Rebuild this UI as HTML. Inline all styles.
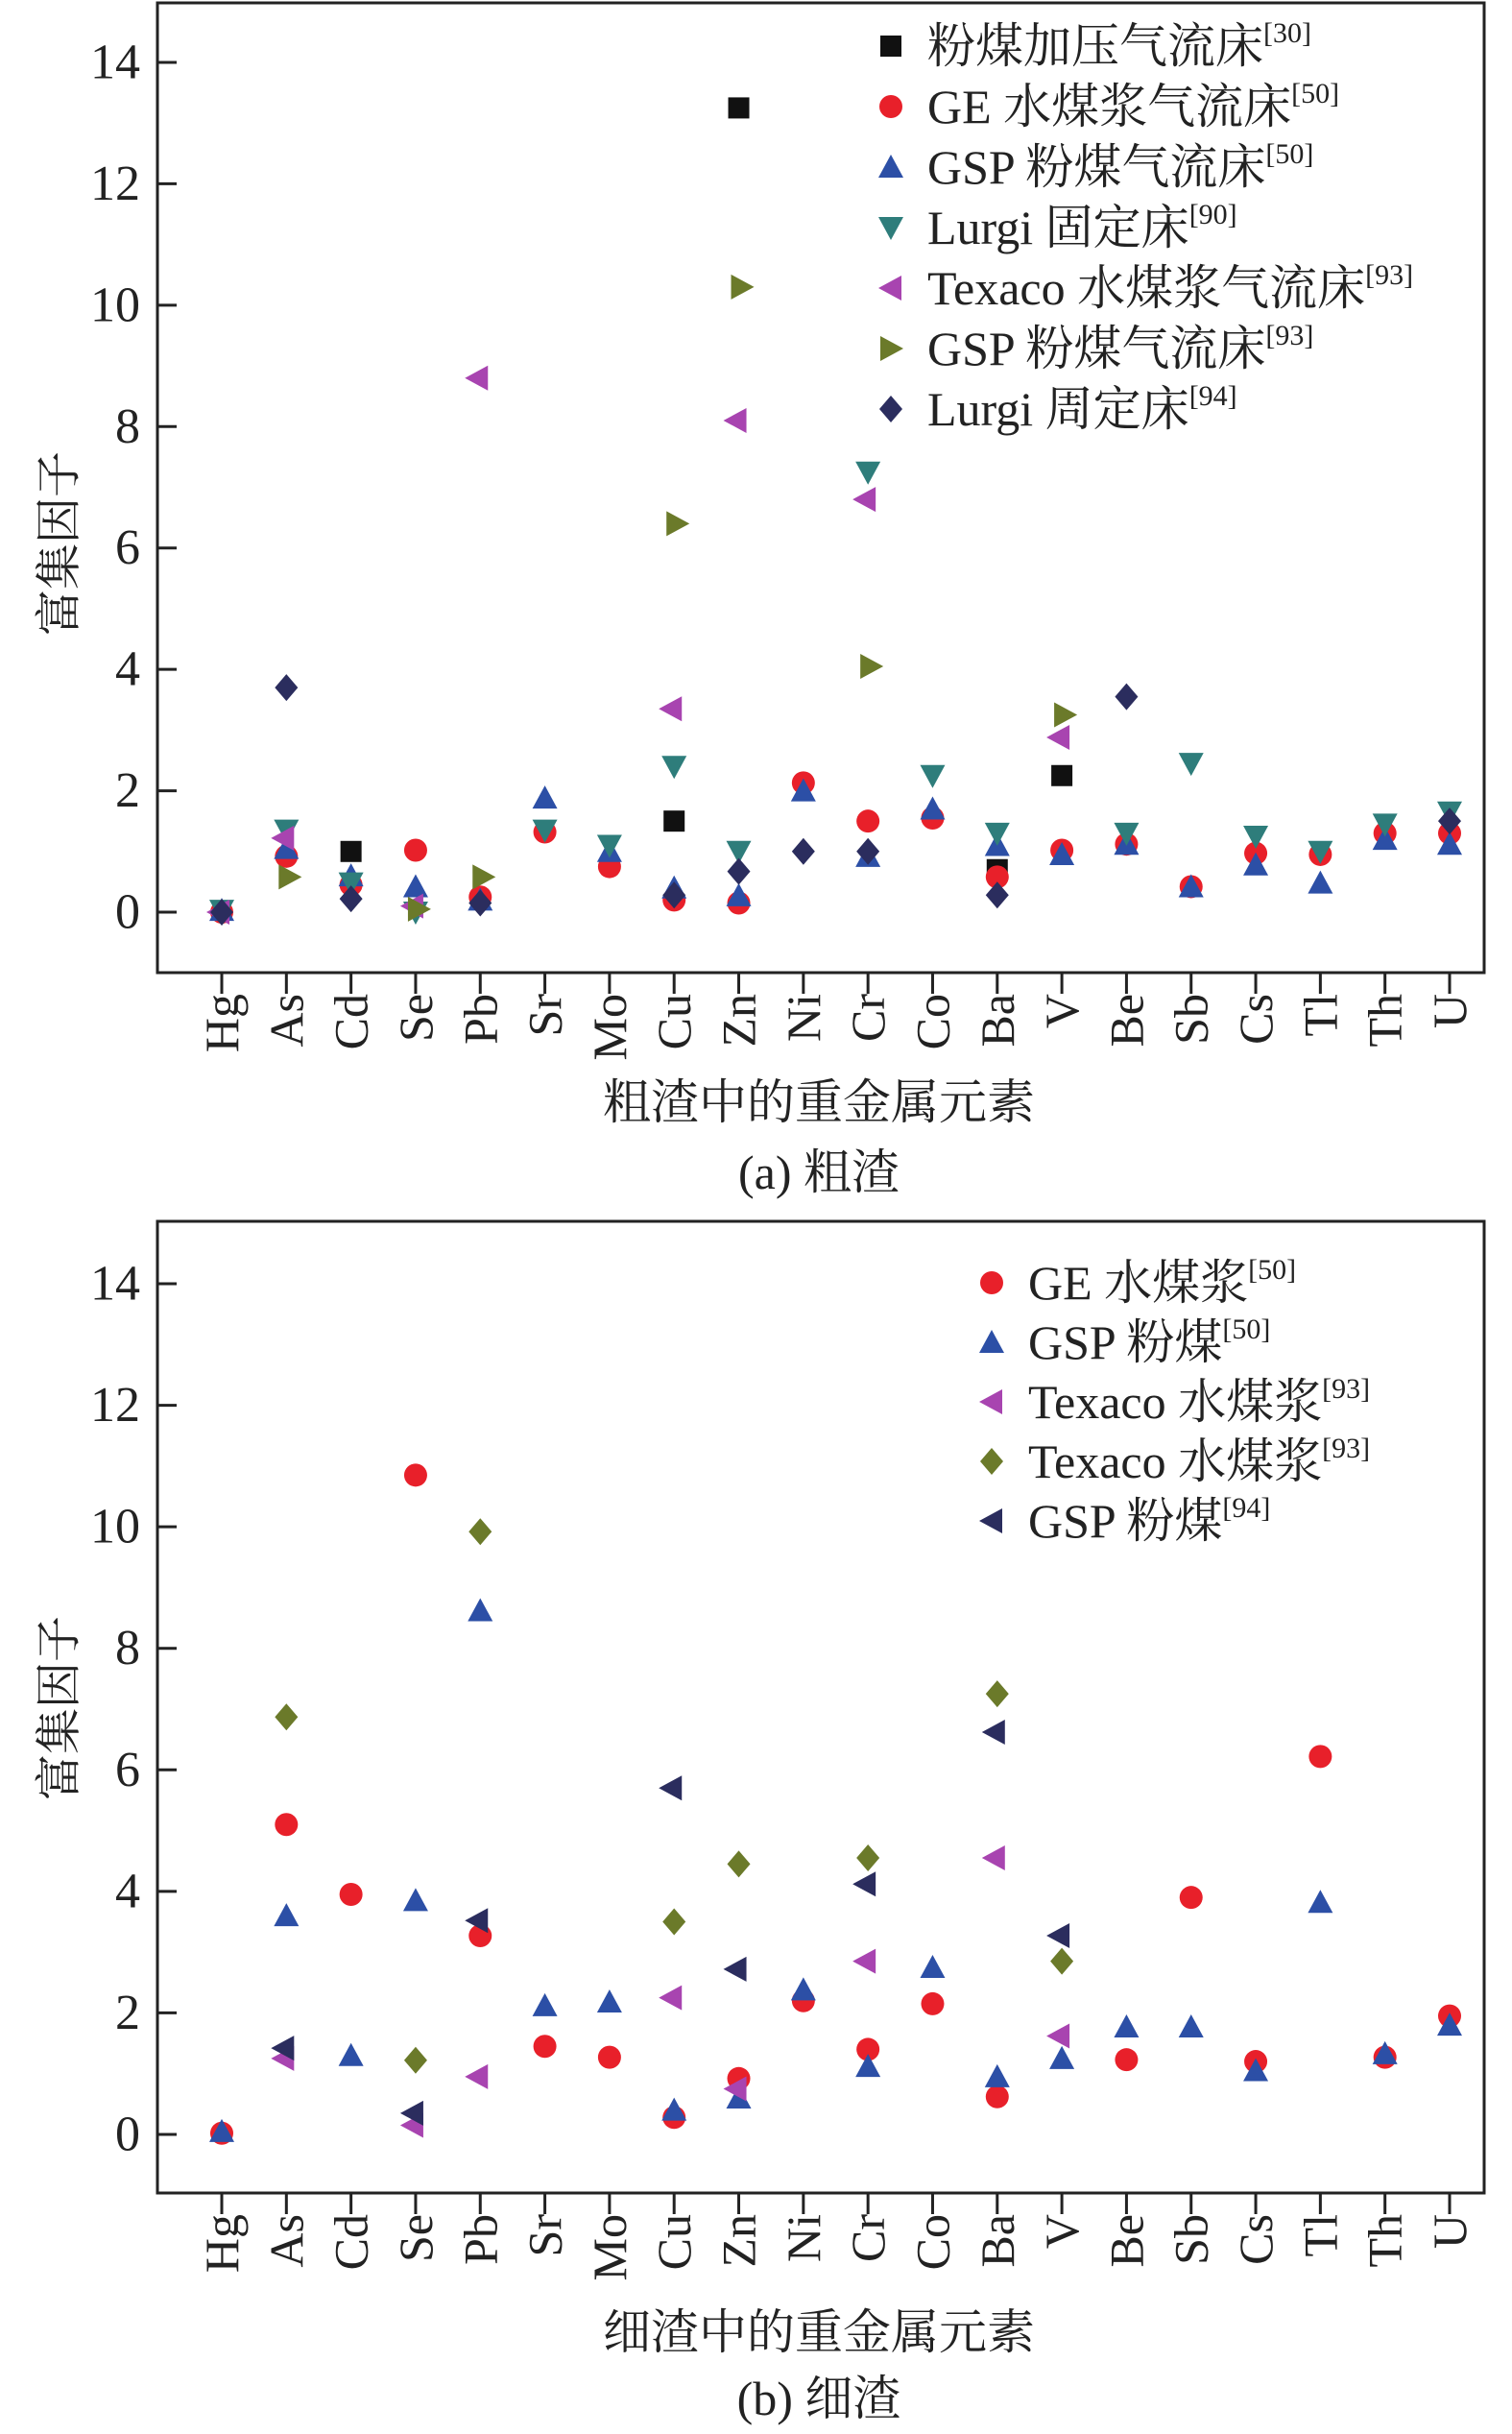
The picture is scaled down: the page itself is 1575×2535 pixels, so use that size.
<!DOCTYPE html>
<html><head><meta charset="utf-8">
<style>
html,body{margin:0;padding:0;background:#fff;}
svg{display:block;font-family:"Liberation Serif","Noto Serif CJK SC",serif;}
</style></head>
<body>
<svg id="fig" width="1575" height="2535" viewBox="0 0 1575 2535" xmlns="http://www.w3.org/2000/svg"></svg>
<script>
const categories = ["Hg","As","Cd","Se","Pb","Sr","Mo","Cu","Zn","Ni","Cr","Co","Ba","V","Be","Sb","Cs","Tl","Th","U"];
const yTicks = [0,2,4,6,8,10,12,14];
const N = null;
// Panel (a)
const aLabels = ["粉煤加压气流床","GE 水煤浆气流床","GSP 粉煤气流床","Lurgi 固定床","Texaco 水煤浆气流床","GSP 粉煤气流床","Lurgi 周定床"];
const aRefs = ["[30]","[50]","[50]","[90]","[93]","[93]","[94]"];
const aBlack   = [N,N,1.0,N,N,N,N,1.5,13.25,N,N,N,0.7,2.25,N,N,N,N,N,N];
const aRed     = [0,0.92,0.45,1.02,0.25,1.32,0.75,0.2,0.15,2.13,1.5,1.55,0.58,1.02,1.12,0.42,0.97,0.95,1.3,1.3];
const aBlue    = [0.03,1.05,0.6,0.42,0.2,1.88,1.0,0.4,0.27,2.0,0.92,1.7,1.1,0.95,1.12,0.42,0.78,0.48,1.2,1.12];
const aTeal    = [0.03,1.35,0.48,0.0,N,1.35,1.1,2.4,1.0,N,7.25,2.25,1.3,N,1.3,2.45,1.25,1.0,1.45,1.65];
const aMagenta = [0,1.22,N,0.1,8.8,N,N,3.35,8.1,N,6.8,N,N,2.88,N,N,N,N,N,N];
const aOlive   = [N,0.58,N,0.05,0.58,N,N,6.4,10.3,N,4.05,N,N,3.25,N,N,N,N,N,N];
const aNavy    = [0,3.7,0.22,N,0.15,N,N,0.28,0.67,1.0,1.0,N,0.28,N,3.55,N,N,N,N,1.5];
// Panel (b)
const bLabels = ["GE 水煤浆","GSP 粉煤","Texaco 水煤浆","Texaco 水煤浆","GSP 粉煤"];
const bRefs = ["[50]","[50]","[93]","[93]","[94]"];
const bRed     = [0.02,5.1,3.95,10.85,3.27,1.45,1.27,0.28,0.92,2.2,1.4,2.15,0.62,N,1.23,3.9,1.2,6.22,1.27,1.95];
const bBlue    = [0.05,3.6,1.3,3.85,8.62,2.12,2.18,0.4,0.6,2.38,1.12,2.75,0.95,1.25,1.77,1.77,1.05,3.82,1.33,1.8];
const bMagenta = [N,1.25,N,0.15,0.95,N,N,2.25,0.75,N,2.85,N,4.55,1.62,N,N,N,N,N,N];
const bOlive   = [N,6.87,N,1.22,9.92,N,N,3.5,4.45,N,4.55,N,7.25,2.85,N,N,N,N,N,N];
const bNavy    = [N,1.42,N,0.35,3.52,N,N,5.7,2.72,N,4.12,N,6.62,3.27,N,N,N,N,N,N];

const NS="http://www.w3.org/2000/svg";
const svg=document.getElementById('fig');
function mk(tag,attrs,parent){const e=document.createElementNS(NS,tag);for(const k in attrs)e.setAttribute(k,attrs[k]);(parent||svg).appendChild(e);return e;}

function marker(g,shape,cx,cy,color){
  const s=13;let e;
  if(shape==='square') e=mk('rect',{x:cx-s+2,y:cy-s+2,width:2*s-4,height:2*s-4,fill:color},g);
  else if(shape==='circle') e=mk('circle',{cx:cx,cy:cy,r:s-1,fill:color},g);
  else if(shape==='up') e=mk('polygon',{points:`${cx},${cy-s} ${cx+s},${cy+s-2} ${cx-s},${cy+s-2}`,fill:color},g);
  else if(shape==='down') e=mk('polygon',{points:`${cx-s},${cy-s+2} ${cx+s},${cy-s+2} ${cx},${cy+s}`,fill:color},g);
  else if(shape==='left') e=mk('polygon',{points:`${cx-s},${cy} ${cx+s-2},${cy-s} ${cx+s-2},${cy+s}`,fill:color},g);
  else if(shape==='right') e=mk('polygon',{points:`${cx+s},${cy} ${cx-s+2},${cy-s} ${cx-s+2},${cy+s}`,fill:color},g);
  else if(shape==='diamond') e=mk('polygon',{points:`${cx},${cy-s-1} ${cx+s-1},${cy} ${cx},${cy+s+1} ${cx-s+1},${cy}`,fill:color},g);
  return e;
}

function panel(cfg){
  const L=164,R=1546,T=cfg.top,B=cfg.bottom;
  const y0=cfg.y0, y14=cfg.y14;
  const yScale=v=>y0+(y14-y0)*v/14;
  const xScale=i=>231+i*(1510-231)/19;
  const g=mk('g',{});
  
  
  const frame=mk('rect',{x:L,y:T,width:R-L,height:B-T,fill:'none',stroke:'#222','stroke-width':3},g);
  
  
  yTicks.forEach(v=>{
    const y=yScale(v);
    const t=mk('line',{x1:L,x2:L+20,y1:y,y2:y,stroke:'#222','stroke-width':3},g);
    
    
    const lb=mk('text',{x:146,y:y,'text-anchor':'end','dominant-baseline':'central','font-size':52,fill:'#222'},g);
    lb.textContent=v;
    
    
  });
  categories.forEach((c,i)=>{
    const x=xScale(i);
    const t=mk('line',{x1:x,x2:x,y1:B,y2:B+22,stroke:'#222','stroke-width':3},g);
    
    
    const lb=mk('text',{x:0,y:0,transform:`translate(${x},${B+22}) rotate(-90)`,'text-anchor':'end','dominant-baseline':'central','font-size':50,fill:'#222'},g);
    lb.textContent=c;
    
    
  });
  const yt=mk('text',{transform:`translate(62,${cfg.ytitleY}) rotate(-90)`,'text-anchor':'middle','dominant-baseline':'central','font-size':48,fill:'#222'},g);
  yt.textContent='富集因子';
  
  
  const xt=mk('text',{x:853,y:cfg.xtitleY,'text-anchor':'middle','dominant-baseline':'central','font-size':50,fill:'#222'},g);
  xt.textContent=cfg.xtitle;
  
  
  const cap=mk('text',{x:853,y:cfg.capY,'text-anchor':'middle','dominant-baseline':'central','font-size':50,fill:'#222'},g);
  cap.textContent=cfg.caption;
  
  
  cfg.series.forEach((s,si)=>{
    const sg=mk('g',{},g);
    
    
    s.data.forEach((v,i)=>{
      if(v===null) return;
      const m=marker(sg,s.shape,xScale(i)+(s.dx||0),yScale(v),s.color);
      
      
    });
    const ly=cfg.legY+si*cfg.legStep;
    const lg=mk('g',{},g);
    
    
    marker(lg,s.shape,cfg.legX,ly,s.color);
    const tx=mk('text',{x:cfg.legX+38,y:ly,'dominant-baseline':'central','font-size':50,fill:'#222'},lg);
    tx.textContent=s.label;
    const sup=mk('tspan',{'font-size':30,dy:-14},tx);
    sup.textContent=s.ref;
  });
}

const colors={black:'#111',red:'#e8202a',blue:'#2c4fa6',teal:'#2e7d7b',magenta:'#a844b0',olive:'#6b7a2a',navy:'#2b2d5e'};
panel({name:'panel-a-coarse-slag',top:3,bottom:1013,y0:950,y14:65,ytitleY:566,xtitleY:1148,capY:1221,
  xtitle:'粗渣中的重金属元素',caption:'(a) 粗渣',legX:928,legY:48,legStep:63,
  series:[
   {key:'pressurized',data:aBlack,shape:'square',color:colors.black,label:aLabels[0],ref:aRefs[0]},
   {key:'ge',data:aRed,shape:'circle',color:colors.red,label:aLabels[1],ref:aRefs[1]},
   {key:'gsp50',data:aBlue,shape:'up',color:colors.blue,label:aLabels[2],ref:aRefs[2]},
   {key:'lurgi90',data:aTeal,shape:'down',color:colors.teal,label:aLabels[3],ref:aRefs[3]},
   {key:'texaco93',data:aMagenta,shape:'left',color:colors.magenta,label:aLabels[4],ref:aRefs[4],dx:-3},
   {key:'gsp93',data:aOlive,shape:'right',color:colors.olive,label:aLabels[5],ref:aRefs[5],dx:3},
   {key:'lurgi94',data:aNavy,shape:'diamond',color:colors.navy,label:aLabels[6],ref:aRefs[6]}
  ]});
panel({name:'panel-b-fine-slag',top:1272,bottom:2284,y0:2223,y14:1337,ytitleY:1779,xtitleY:2429,capY:2498,
  xtitle:'细渣中的重金属元素',caption:'(b) 细渣',legX:1033,legY:1336,legStep:62,
  series:[
   {key:'ge50',data:bRed,shape:'circle',color:colors.red,label:bLabels[0],ref:bRefs[0]},
   {key:'gsp50',data:bBlue,shape:'up',color:colors.blue,label:bLabels[1],ref:bRefs[1]},
   {key:'texaco93-tri',data:bMagenta,shape:'left',color:colors.magenta,label:bLabels[2],ref:bRefs[2],dx:-3},
   {key:'texaco93-dia',data:bOlive,shape:'diamond',color:colors.olive,label:bLabels[3],ref:bRefs[3]},
   {key:'gsp94',data:bNavy,shape:'left',color:colors.navy,label:bLabels[4],ref:bRefs[4],dx:-3}
  ]});
</script>
</body></html>
